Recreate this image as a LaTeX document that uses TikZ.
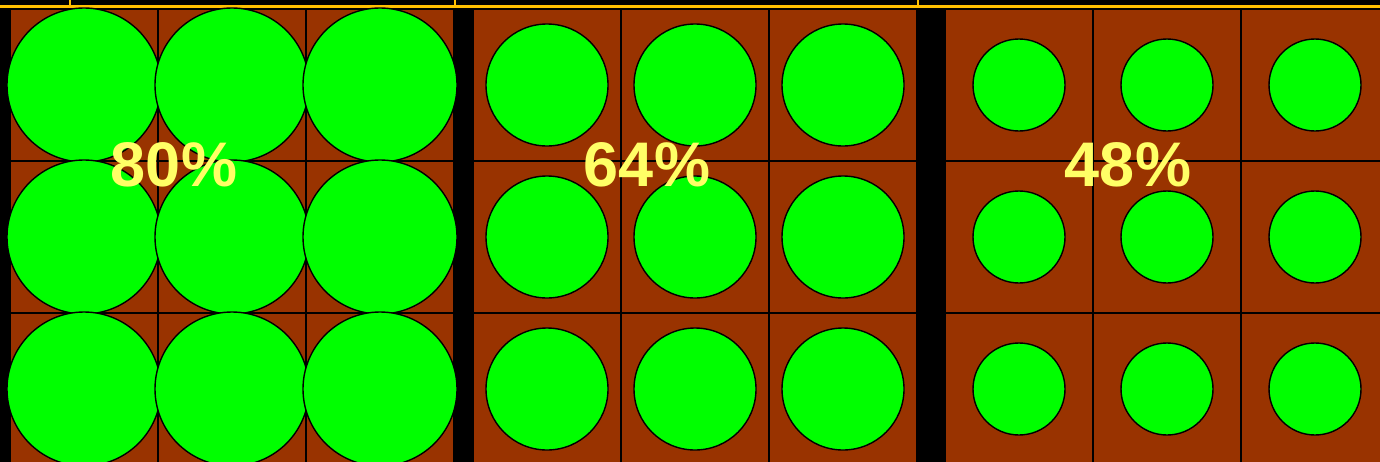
\documentclass[tikz,border=0pt]{standalone}
\usepackage{fontspec}
\setmainfont{Liberation Sans}
\definecolor{soil}{HTML}{993300}
\definecolor{leaf}{HTML}{00FF00}
\definecolor{rim}{HTML}{FFC000}
\definecolor{pct}{HTML}{FFFF66}

\begin{document}
\begin{tikzpicture}[x=1pt,y=-1pt]
\def\w{148}
\def\h{152}

% Black background and frame
\useasboundingbox (0,0) rectangle (1380,461);
\fill[black] (-5,-5) rectangle (1385,466);

% Yellow rim along the top, with small ticks
\draw[rim, line width=2.5pt] (0,6.5) -- (1380,6.5);
\foreach \t in {70,455,918}
  \draw[rim, line width=1.8pt] (\t,0) -- (\t,6.5);

% Brown cells of the three panels (left edge of each panel)
\foreach \px in {10,473,945}{
  \foreach \i in {0,1,2}{
    \foreach \j in {0,1,2}
      \filldraw[fill=soil, draw=black, line width=1.5pt] (\px+\i*\w, 9+\j*\h) rectangle ++(\w,\h);
  }
}

% Green circles, one per cell (radius shrinks panel by panel)
\foreach \px/\r in {10/77, 473/61, 945/46}{
  \foreach \j in {0,1,2}{
    \foreach \i in {0,1,2}
      \filldraw[fill=leaf, draw=black, line width=1.4pt] (\px+\i*\w+\w/2, 9+\j*\h+\h/2) circle (\r);
  }
}

% Labels
\node[text=pct, font=\bfseries\fontsize{63}{63}\selectfont] (lab80) at (174,165) {80\%};
\node[text=pct, font=\bfseries\fontsize{63}{63}\selectfont] (lab64) at (647,165) {64\%};
\node[text=pct, font=\bfseries\fontsize{63}{63}\selectfont] (lab48) at (1128,165) {48\%};
\end{tikzpicture}
\end{document}
